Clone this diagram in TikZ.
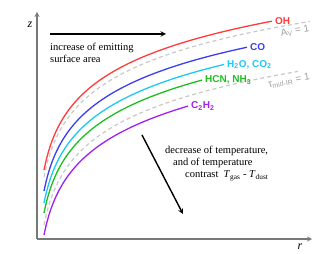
\documentclass[tikz,border=0pt]{standalone}
\usepackage{fontspec}
\setmainfont{Liberation Serif}
\setsansfont{Liberation Sans}
\usepackage{xcolor}
\usepackage{tikz}
\usetikzlibrary{arrows, positioning}

\definecolor{ohred}{HTML}{FF3B3B}
\definecolor{coblue}{HTML}{3C3CF0}
\definecolor{watercyan}{HTML}{1CC8F8}
\definecolor{hcngreen}{HTML}{1EBE1E}
\definecolor{acepurple}{HTML}{A020F0}
\definecolor{dashgray}{HTML}{C8C8C8}
\definecolor{labgray}{HTML}{A0A0A0}
\definecolor{axisgray}{HTML}{787878}

\begin{document}
\begin{tikzpicture}[x=1pt, y=-1pt,
    curve/.style={line width=1.3pt},
    bound/.style={draw=dashgray, line width=1.2pt, dash pattern=on 4pt off 3pt},
    speclabel/.style={anchor=west, inner sep=1pt, xshift=2pt, font=\sffamily\bfseries\fontsize{10}{12}\selectfont},
    boundlabel/.style={inner sep=0pt, rotate=10, text=labgray, font=\sffamily\fontsize{10}{12}\selectfont},
    note/.style={inner sep=0pt, align=left, font=\fontsize{10.5}{12}\selectfont},
    axisline/.style={draw=axisgray, line width=1.2pt, ->, >=stealth},
    trend/.style={line width=1.4pt, ->, >=stealth}
  ]
    \useasboundingbox (0,0) rectangle (314,254);

    % Axes
    \coordinate (orig) at (37,239);
    \coordinate (ztip) at (37,12);
    \coordinate (rtip) at (312,239);
    \draw [axisline] (orig) -- (ztip);
    \draw [axisline] (orig) -- (rtip);
    \node (zlab) at (30,25) {\fontsize{12}{12}\selectfont\textit{z}};
    \node (rlab) at (300,247) {\fontsize{12}{12}\selectfont\textit{r}};

    % Boundaries
    \draw [bound] plot[domain=44:310, samples=90, smooth] (\x, {239-62-45.5*(ln(\x-35)-ln(9))});
    \draw [bound] plot[domain=44:298, samples=90, smooth] (\x, {239-14-45.5*(ln(\x-35)-ln(9))});
    \node (avlab) [boundlabel] at (295,31) {A\textsubscript{V} = 1};
    \node (taulab) [boundlabel] at (289,81) {τ\textsubscript{mid-IR} = 1};

    % Emitting layers
    \foreach \col/\hz/\xe/\nm/\txt in {ohred/69/272/oh/OH, coblue/48/247/co/CO,
        watercyan/36/224/water/{H\textsubscript{2}O, CO\textsubscript{2}},
        hcngreen/26/202/hcn/{HCN, NH\textsubscript{3}},
        acepurple/4/188/ace/{C\textsubscript{2}H\textsubscript{2}}} {
      \draw [curve, draw=\col] plot[domain=44:\xe, samples=90, smooth] (\x, {239-\hz-45.5*(ln(\x-35)-ln(9))});
      \coordinate (\nm end) at (\xe, {239-\hz-45.5*(ln(\xe-35)-ln(9))});
      \node (\nm) [speclabel, text=\col] at (\nm end) {\txt};
    }

    % Trends
    \coordinate (incstart) at (50,34);
    \coordinate (incend) at (166,34);
    \draw [trend] (incstart) -- (incend);
    \node (inctext) [note, anchor=north west] at (50,43) {increase of emitting\\surface area};

    \coordinate (decstart) at (142,135);
    \coordinate (decend) at (183,214);
    \draw [trend] (decstart) -- (decend);
    \node (dectext) [note, anchor=north west] at (165,146) {decrease of temperature,\\\hspace*{8pt}and of temperature\\\hspace*{20pt}contrast\ \ \textit{T}\textsubscript{gas} - \textit{T}\textsubscript{dust}};

  \end{tikzpicture}
\end{document}
